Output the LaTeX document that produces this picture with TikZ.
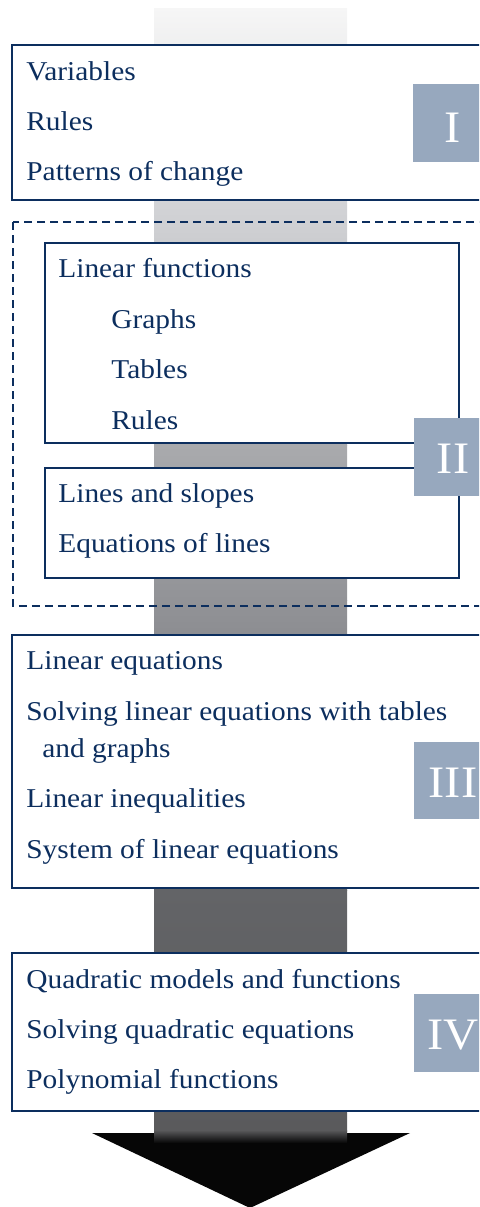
\documentclass[tikz,border=0pt]{standalone}
\usepackage{fontspec}
\setmainfont{Liberation Serif}[FakeStretch=1.08]
\definecolor{navy}{RGB}{12,46,94}
\definecolor{badgeblue}{RGB}{151,168,190}
\definecolor{g0}{RGB}{246,246,246}
\definecolor{g1}{RGB}{211,212,215}
\definecolor{g2}{RGB}{169,170,173}
\definecolor{g3}{RGB}{146,147,151}
\definecolor{g4}{RGB}{99,100,103}
\definecolor{g5}{RGB}{90,90,92}
\definecolor{g6}{RGB}{6,6,6}
\tikzset{
  topicbox/.style={draw=navy, line width=1.25pt, fill=white},
  groupbox/.style={draw=navy, line width=1.2pt, dash pattern=on 4pt off 2.5pt},
  item/.style={anchor=base west, inner sep=0pt, text=navy, font=\fontsize{13.6}{16}\selectfont},
  badge/.style={fill=badgeblue},
  numeral/.style={anchor=base, inner sep=0pt, text=white, font=\fontsize{22.5}{26}\selectfont},
}
\begin{document}
\begin{tikzpicture}[x=0.5pt, y=-0.5pt]
\useasboundingbox (0,0) rectangle (479,1207);
\clip (0,0) rectangle (479,1207);

% shaded shaft of the big arrow
\fill[top color=g0, bottom color=g1] (154,8) rectangle (347,200);
\fill[top color=g1, bottom color=g2] (154,200) rectangle (347,445);
\fill[top color=g2, bottom color=g3] (154,445) rectangle (347,600);
\fill[top color=g3, bottom color=g4] (154,600) rectangle (347,890);
\fill[top color=g4, bottom color=g5] (154,890) rectangle (347,1131);
% arrow head
\fill[g6] (92,1133) -- (410,1133) -- (250,1208) -- cycle;
\fill[top color=g5, bottom color=g6] (154,1130) rectangle (347,1143);

% stage I
\draw[topicbox] (12,45) rectangle (490,200);
\node[item] (v1) at (26,80) {Variables};
\node[item] (v2) at (26,130) {Rules};
\node[item] (v3) at (26,180) {Patterns of change};

% stage II
\draw[groupbox] (13,222) rectangle (490,606);
\draw[topicbox] (45,243) rectangle (459,443);
\node[item] (lf) at (58,277) {Linear functions};
\node[item] (lf1) at (111,328) {Graphs};
\node[item] (lf2) at (111,378) {Tables};
\node[item] (lf3) at (111,429) {Rules};
\draw[topicbox] (45,468) rectangle (459,578);
\node[item] (ls1) at (58,502) {Lines and slopes};
\node[item] (ls2) at (58,552) {Equations of lines};

% stage III
\draw[topicbox] (12,635) rectangle (490,888);
\node[item] (le1) at (26,669) {Linear equations};
\node[item] (le2) at (26,720) {Solving linear equations with tables};
\node[item] (le3) at (42,757) {and graphs};
\node[item] (le4) at (26,807) {Linear inequalities};
\node[item] (le5) at (26,858) {System of linear equations};

% stage IV
\draw[topicbox] (12,953) rectangle (490,1111);
\node[item] (q1) at (26,988) {Quadratic models and functions};
\node[item] (q2) at (26,1038) {Solving quadratic equations};
\node[item] (q3) at (26,1088) {Polynomial functions};

% stage numerals
\fill[badge] (413,84) rectangle (491,162);
\node[numeral] (nI) at (453,142) {I};
\fill[badge] (414,418) rectangle (492,496);
\node[numeral] (nII) at (453,473) {II};
\fill[badge] (414,742) rectangle (492,819);
\node[numeral] (nIII) at (453,797) {III};
\fill[badge] (414,994) rectangle (492,1072);
\node[numeral] (nIV) at (453,1049) {IV};
\end{tikzpicture}
\end{document}
